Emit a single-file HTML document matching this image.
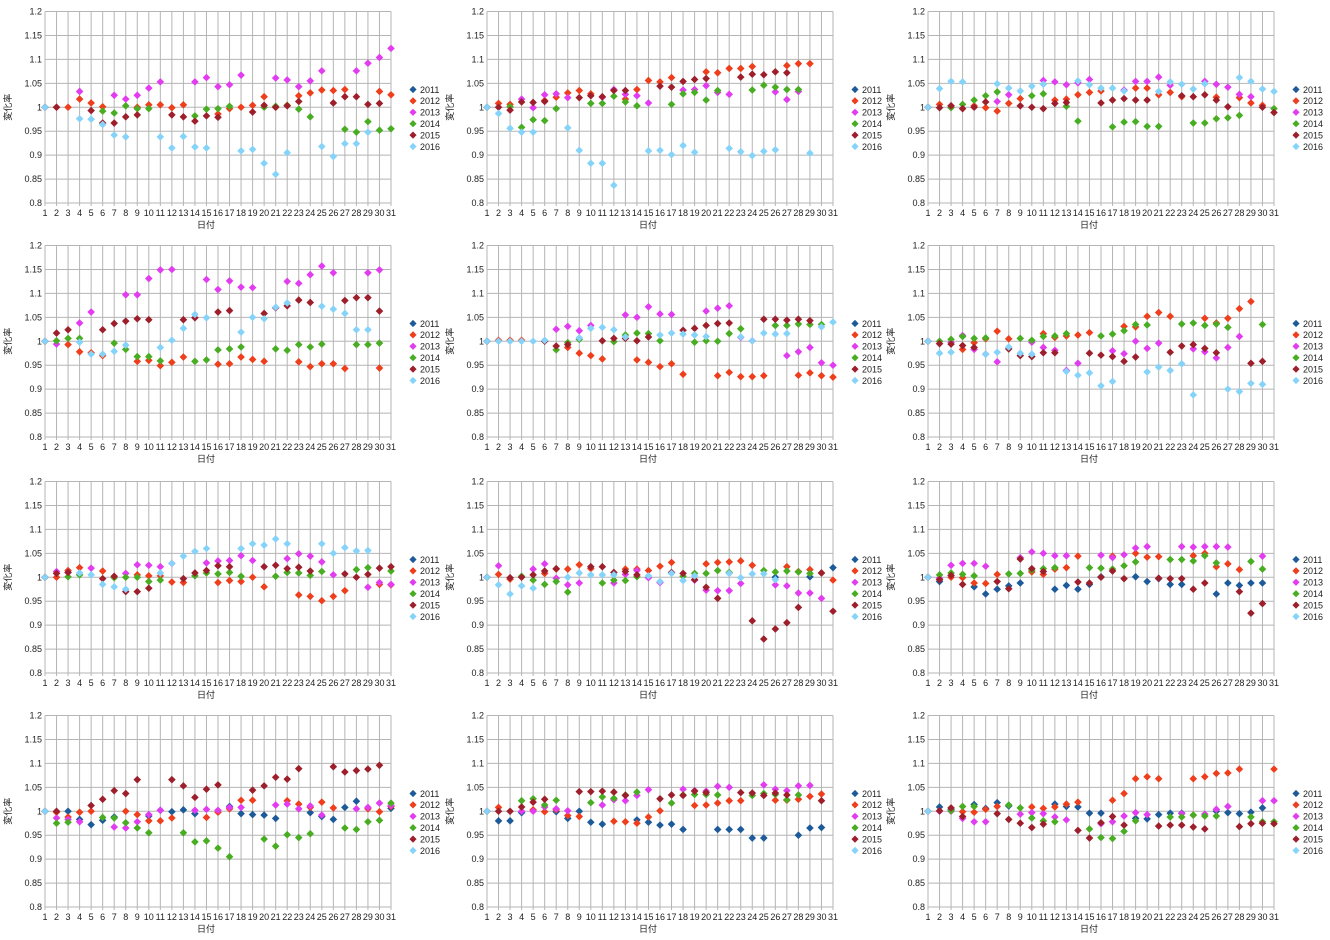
<!DOCTYPE html>
<html><head><meta charset="utf-8"><style>
html,body{margin:0;padding:0;background:#fff;width:1330px;height:940px;overflow:hidden}
svg{display:block}
text{font-family:"Liberation Sans","Noto Sans CJK JP",sans-serif;font-size:9px;fill:#222}
</style></head><body>
<svg id="s" width="1330" height="940" xmlns="http://www.w3.org/2000/svg"></svg>
<script>
const P=[
["",
"2:0 3:0 4:17 5:9 6:1 9:0 10:5 11:5 12:-1 13:5 16:-14 17:-3 18:0 19:4 20:22 21:0 22:4 23:24 24:30 25:36 26:35 27:37 30:33 31:26",
"4:33 7:25 8:17 9:25 10:40 11:53 14:53 15:62 16:43 17:47 18:67 21:61 22:57 23:43 24:55 25:76 28:76 29:92 30:104 31:123",
"6:-8 7:-12 8:3 9:-3 10:-3 14:-18 15:-4 16:-3 17:2 20:0 21:2 22:4 23:-4 24:-20 27:-46 28:-52 29:-30 30:-48 31:-45",
"2:0 5:-7 6:-33 7:-33 8:-20 9:-16 12:-16 13:-20 14:-29 15:-18 16:-21 19:-10 20:4 21:0 22:3 23:12 26:9 27:22 28:22 29:6 30:8",
"4:-24 5:-25 6:-36 7:-58 8:-62 11:-62 12:-85 13:-61 14:-83 15:-85 18:-91 19:-88 20:-117 21:-140 22:-95 25:-82 26:-103 27:-76 28:-76 29:-52"],
["",
"2:8 3:6 6:14 7:21 8:30 9:35 10:28 13:17 14:37 15:56 16:53 17:62 20:74 21:72 22:81 23:81 24:85 27:87 28:91 29:91",
"4:17 5:-1 6:26 7:28 8:20 11:21 12:37 13:27 14:24 15:9 18:36 19:37 20:45 21:31 22:27 26:32 27:16 28:33",
"3:1 4:-42 5:-26 6:-28 7:-3 10:8 11:8 12:23 13:11 14:3 17:6 18:28 19:31 20:15 21:35 24:36 25:46 26:42 27:37 28:37",
"2:0 3:-6 4:11 5:10 6:12 9:20 10:24 11:22 12:35 13:35 16:44 17:42 18:54 19:58 20:60 23:63 24:69 25:68 26:74 27:72",
"2:-13 3:-44 4:-52 5:-52 8:-43 9:-90 10:-117 11:-117 12:-163 15:-91 16:-90 17:-99 18:-80 19:-94 22:-86 23:-93 24:-101 25:-92 26:-89 29:-96"],
["",
"2:6 3:3 5:3 6:-1 7:-8 8:8 9:18 12:15 13:17 14:26 15:31 16:34 19:40 20:40 21:26 22:31 23:22 26:21 28:20 29:9 30:4",
"7:12 8:26 11:56 12:53 13:47 14:51 15:58 18:36 19:54 20:54 21:63 22:46 25:54 26:48 27:42 28:27 29:22",
"3:-1 4:6 5:15 6:24 7:32 10:24 11:28 13:2 14:-29 17:-41 18:-31 19:-30 20:-40 21:-40 24:-33 25:-33 26:-24 27:-22 28:-17 31:-3",
"2:-1 3:3 4:-3 5:0 6:11 9:3 10:0 11:-3 12:8 13:10 16:9 17:15 18:18 19:15 20:15 23:24 24:22 25:26 26:15 27:1 30:0 31:-11",
"2:39 3:54 4:53 7:49 8:40 9:34 10:44 11:48 14:55 15:47 16:40 17:40 18:34 21:33 22:53 23:48 24:38 25:49 28:62 29:54 30:38 31:33"],
["",
"3:-7 4:-22 5:-24 6:-30 9:-42 10:-40 11:-51 12:-44 13:-33 16:-48 17:-47 18:-33 19:-38 20:-42 23:-43 24:-53 25:-47 26:-47 27:-57 30:-56",
"2:-6 4:38 5:61 8:97 9:97 10:131 11:149 12:150 15:129 16:108 17:126 18:113 19:112 21:70 22:125 23:121 24:139 25:157 26:143 29:143 30:149",
"2:1 3:6 4:6 7:-4 8:-17 9:-32 10:-32 11:-41 14:-42 15:-39 16:-18 17:-16 18:-12 21:-16 22:-19 23:-7 24:-12 25:-6 28:-7 29:-7 30:-4",
"2:17 3:24 6:24 7:37 8:42 9:47 10:45 13:45 14:49 16:61 17:64 20:58 21:70 22:74 23:86 24:81 27:85 28:91 29:91 30:63",
"4:-2 5:-27 6:-27 7:-21 8:-8 11:-13 12:2 13:27 14:56 15:49 18:19 19:50 20:47 21:71 22:80 25:73 26:67 27:58 28:24 29:24"],
["",
"2:2 3:2 4:2 8:-13 9:-25 10:-30 11:-37 14:-39 15:-44 16:-53 17:-47 18:-69 21:-72 22:-65 23:-74 24:-74 25:-72 28:-71 29:-66 30:-72 31:-75",
"7:25 8:31 9:22 10:33 13:55 14:50 15:72 16:57 17:56 20:63 21:69 22:74 23:8 24:1 27:-30 28:-22 29:-13 30:-45 31:-50",
"7:-18 8:-3 9:4 12:-1 13:13 14:17 15:16 16:1 19:-2 20:1 21:0 22:16 23:26 26:33 27:33 28:36 29:35 30:35",
"6:0 7:-10 8:-7 11:1 12:6 13:6 14:1 15:9 18:23 19:27 20:33 21:37 22:38 25:46 26:46 27:44 28:46 29:43",
"2:0 3:0 4:0 5:0 6:2 9:7 10:27 11:29 12:24 13:9 16:13 17:17 18:15 19:13 20:10 23:9 24:1 25:17 26:15 27:16 30:30 31:40"],
["",
"4:-17 5:-3 6:5 7:21 8:5 11:16 12:8 13:11 14:13 15:18 18:31 19:30 20:52 21:60 22:52 25:48 26:38 27:48 28:68 29:83",
"3:-2 4:12 5:-17 6:-27 7:-43 10:-2 11:-13 12:-19 13:-61 14:-46 17:-20 18:-26 19:0 20:-15 21:-4 24:-16 25:-22 26:-35 27:-13 28:10",
"2:0 3:4 4:10 5:6 6:7 9:6 10:2 11:10 12:11 13:16 16:11 17:15 18:22 19:35 20:34 23:36 24:38 25:33 26:36 27:29 30:35",
"2:-5 3:-6 4:-9 5:-13 8:-16 9:-30 10:-32 11:-24 12:-24 15:-25 16:-29 17:-32 18:-42 19:-33 22:-23 23:-10 24:-7 25:-15 26:-24 29:-46 30:-42",
"2:-25 3:-23 6:-27 7:-23 8:-12 9:-25 10:-27 13:-63 14:-71 15:-66 16:-93 17:-84 20:-64 21:-54 22:-61 23:-47 24:-112 27:-100 28:-105 29:-88 30:-90"],
["",
"2:0 3:14 4:20 6:13 9:5 10:3 11:3 12:-10 13:-11 16:-11 17:-7 18:-9 19:0 20:-20 23:-37 24:-40 25:-49 26:-40 27:-28 30:-15 31:-16",
"2:12 3:10 5:19 8:8 9:26 10:25 11:22 12:29 15:30 16:34 17:35 18:45 19:35 22:39 23:49 24:44 25:32 26:5 29:-21 30:-11 31:-15",
"3:1 4:5 7:-1 8:0 9:0 10:-9 11:-6 14:3 15:9 16:7 17:10 18:2 21:2 22:10 23:9 24:4 25:12 28:16 29:20 31:13",
"2:8 3:10 6:-3 7:2 8:-30 9:-30 10:-23 13:-3 14:9 15:14 16:24 17:22 20:22 21:25 22:18 23:21 24:13 27:7 28:0 29:6 30:19 31:22",
"4:9 5:5 6:-15 7:-20 8:-25 11:9 12:29 13:44 14:54 15:60 18:60 19:70 20:67 21:80 22:70 25:70 26:50 27:62 28:55 29:56"],
["26:0 29:1 31:20",
"2:6 3:-4 6:8 7:17 8:17 9:26 10:18 13:17 14:17 15:14 16:23 17:31 20:28 21:31 22:32 23:34 24:25 27:22 28:12 29:16 30:9 31:-6",
"2:24 5:17 6:28 7:-2 8:-16 9:-12 12:-12 13:6 14:14 15:-1 16:-11 19:-6 20:-27 21:-28 22:-28 23:-13 26:-16 27:-18 28:-33 29:-33 30:-44",
"4:2 5:-6 6:-15 7:-9 8:-31 11:-12 12:-6 13:-7 14:1 18:2 19:8 20:8 21:14 22:10 25:14 26:11 27:13 28:11 29:8",
"3:-1 4:0 5:5 6:13 7:18 10:22 11:22 12:10 13:12 14:5 17:10 18:8 19:-5 20:-21 21:-44 24:-91 25:-129 26:-108 27:-95 28:-63 30:9 31:-71",
"2:-16 3:-35 4:-18 5:-23 8:0 9:9 10:5 11:5 12:5 15:3 16:-9 17:8 18:-7 19:3 22:8 23:-1 24:7 25:7 26:-5"],
["2:-9 5:-20 6:-35 7:-25 8:-18 9:-12 12:-25 13:-17 14:-25 15:-15 16:1 19:1 20:-9 21:-3 22:-15 23:-15 26:-35 27:-12 28:-17 29:-12 30:-12",
"3:0 4:-1 5:-12 6:-13 7:6 10:11 11:6 12:17 13:20 14:44 17:44 19:50 20:42 21:43 24:45 25:50 26:22 27:28 28:16",
"2:-2 3:25 4:29 5:29 6:23 9:41 10:53 11:50 12:45 13:45 16:46 17:41 18:47 19:61 20:64 23:64 24:63 25:64 26:64 27:63 30:44",
"2:5 3:9 4:6 5:3 8:7 9:8 10:15 11:18 12:20 15:20 16:19 17:17 18:24 19:32 22:37 23:37 24:34 25:45 26:30 29:33 30:17",
"2:-5 3:4 4:-15 7:-9 8:-24 9:38 10:18 11:12 14:-10 15:-12 16:0 17:13 18:-3 21:-2 22:-3 23:-3 24:-25 25:-12 28:-30 29:-75 30:-55",
""],
["3:0 4:-17 5:-28 6:-19 7:-12 10:-10 11:2 12:-1 13:3 14:-5 17:10 18:-5 19:-7 20:-8 21:-15 24:-3 25:-11 26:-17 27:8 28:21 31:6",
"2:-2 3:-12 4:-2 5:0 8:0 9:-7 10:-20 11:-20 12:-14 15:-13 16:-2 17:5 18:23 19:23 22:22 23:15 24:8 25:19 26:7 29:5 30:-1 31:10",
"2:-14 3:-17 4:-22 7:-33 8:-35 9:-22 10:-7 11:2 14:2 15:4 16:2 17:8 18:8 21:13 22:15 23:5 24:11 25:-8 28:5 29:8 30:17 31:12",
"2:-25 3:-23 6:-13 7:-14 8:-24 9:-35 10:-45 13:-45 14:-64 15:-62 16:-77 17:-95 20:-58 21:-73 22:-49 23:-55 24:-47 27:-35 28:-38 29:-22 30:-19 31:17",
"2:0 5:12 6:25 7:43 8:37 9:66 12:66 13:53 14:29 15:46 16:55 19:44 20:53 21:71 22:67 23:89 26:93 27:82 28:85 29:88 30:96",
""],
["2:-20 3:-20 4:-3 7:-1 8:-15 9:0 10:-23 11:-27 14:-18 15:-23 16:-29 17:-27 18:-38 21:-38 22:-38 23:-38 24:-56 25:-56 28:-50 29:-35 30:-34",
"2:8 5:3 6:-1 7:3 8:-9 9:-11 12:-21 13:-22 14:-25 15:-12 16:1 19:12 20:13 21:17 22:22 23:22 26:23 27:23 28:25 29:31 30:36",
"4:0 5:0 6:9 7:5 8:1 11:13 12:24 13:22 14:33 15:45 18:46 19:43 20:42 21:52 22:50 25:55 26:46 27:43 28:53 29:54",
"4:22 5:26 6:13 7:23 10:18 11:30 12:27 13:34 14:40 17:17 18:34 19:35 20:35 21:34 24:33 25:37 26:35 27:24 28:34",
"2:0 3:0 4:9 5:19 6:25 9:41 10:41 11:42 12:40 13:33 16:26 17:34 18:33 19:42 20:39 23:39 24:38 25:33 26:38 27:34 30:22",
""],
["2:9 3:4 5:14 6:6 7:18 8:11 12:15 13:10 14:9 15:-4 16:-4 19:-15 20:-16 21:-7 22:-4 23:-4 26:0 27:-3 28:-5 29:-2 30:7",
"4:-1 5:-2 6:4 7:10 10:9 11:6 12:9 13:15 14:19 17:23 18:37 19:68 20:72 21:68 24:68 25:72 26:79 27:80 28:88 31:88",
"2:0 3:0 4:-15 5:-22 6:-22 9:-6 10:-3 11:-5 12:-12 13:-18 16:-26 17:-22 18:-10 19:-3 20:-7 23:-5 24:-8 25:-6 26:4 27:10 30:22 31:22",
"3:1 4:10 5:10 8:13 9:7 10:-14 11:-20 12:-22 15:-37 16:-55 17:-57 18:-42 19:-20 22:-12 23:-12 24:-8 25:-10 26:-10 29:-12 30:-22 31:-22",
"2:1 3:7 4:-11 7:-5 8:-17 9:-25 10:-34 11:-27 14:-40 15:-56 16:-24 17:-11 18:-29 21:-31 22:-29 23:-29 24:-33 25:-37 28:-32 29:-26 30:-25 31:-26",
""]
];
const COLS=["#1d5a9a","#ee3e1c","#e23cf0","#48ad22","#9c1f2b","#86d3fa"];
const YRS=["2011","2012","2013","2014","2015","2016"];
const LX=[45,487,928], TY=[11.5,245.5,481.5,715.5], W=346, H=191.5;
let o="";
function dia(x,y,c,r){return `<path d="M${x} ${y-r}L${x+r} ${y}L${x} ${y+r}L${x-r} ${y}Z" fill="${c}"/>`;}
for(let i=0;i<12;i++){
 const L=LX[i%3],T=TY[Math.floor(i/3)],B=T+H,st=W/30;
 for(let k=0;k<=8;k++){const y=T+k*H/8;o+=`<line x1="${L}" x2="${L+W}" y1="${y}" y2="${y}" stroke="#b5b5b5" stroke-width="1"/>`;
  o+=`<text x="${L-3}" y="${y+3}" text-anchor="end">${[1.2,1.15,1.1,1.05,1,0.95,0.9,0.85,0.8][k]}</text>`;}
 for(let d=1;d<=31;d++){const x=L+(d-1)*st;o+=`<line x1="${x}" x2="${x}" y1="${T}" y2="${B+3}" stroke="#b5b5b5" stroke-width="1"/>`;
  o+=`<text x="${x}" y="${B+13}" text-anchor="middle">${d}</text>`;}
 o+=`<text x="${L+161}" y="${B+25}" text-anchor="middle">日付</text>`;
 o+=`<text transform="translate(${L-34},${T+H/2}) rotate(-90)" text-anchor="middle">変化率</text>`;
 for(let s=0;s<6;s++){
  const pts={1:0};
  P[i][s].split(" ").filter(Boolean).forEach(t=>{const [d,v]=t.split(":");pts[+d]=+v;});
  if(s==5 && P[i][5]==="") {/* still plot day1 */}
  for(const d in pts){const x=L+(d-1)*st,y=T+H/2-pts[d]*H/400;o+=dia(x,y,COLS[s],3.8);}
 }
 for(let s=0;s<6;s++){const y=T+78+s*11.4;o+=dia(L+368,y,COLS[s],3.6);o+=`<text x="${L+375}" y="${y+3.3}">${YRS[s]}</text>`;}
}
document.getElementById("s").innerHTML=o;
</script>
</body></html>
